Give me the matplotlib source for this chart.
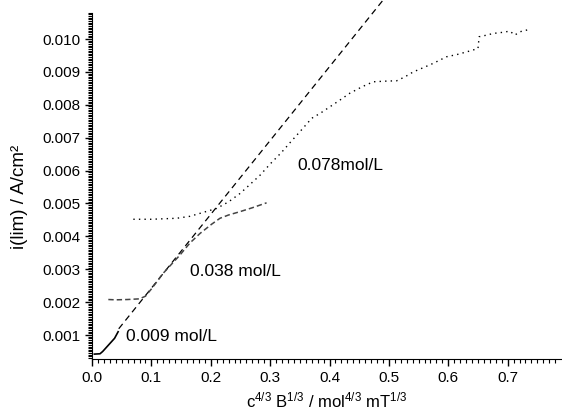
import matplotlib
matplotlib.use("Agg")
import matplotlib.pyplot as plt
from matplotlib.ticker import MultipleLocator, FormatStrFormatter

plt.rcParams['font.family'] = ['Liberation Sans', 'DejaVu Sans']
plt.rcParams['mathtext.fontset'] = 'custom'
plt.rcParams['mathtext.rm'] = 'Liberation Sans'
plt.rcParams['mathtext.it'] = 'Liberation Sans:italic'

# 0.009 mol/L
c009_x = [0.004, 0.0135, 0.018, 0.022, 0.026, 0.030, 0.034, 0.038, 0.041, 0.044]
c009_y = [0.00042, 0.00043, 0.00050, 0.00058, 0.00066, 0.00074, 0.00082, 0.00090, 0.00100, 0.00110]

# 0.038 mol/L
c038_x = [0.0275, 0.04, 0.06, 0.08, 0.09, 0.10, 0.12, 0.148, 0.165, 0.182, 0.2015,
          0.2155, 0.23, 0.249, 0.27, 0.294]
c038_y = [0.00208, 0.00207, 0.00208, 0.00210, 0.00218, 0.00240, 0.00288, 0.00343,
          0.00380, 0.00409, 0.00437, 0.00455, 0.00465, 0.00475, 0.00487, 0.00502]

# 0.078 mol/L
c078_x = [0.0696, 0.10, 0.1426, 0.165, 0.182, 0.195, 0.21, 0.23, 0.249, 0.265, 0.283,
          0.30, 0.319, 0.335, 0.350, 0.370, 0.385, 0.4007, 0.418, 0.434, 0.455, 0.4736,
          0.495, 0.513, 0.527, 0.541, 0.558, 0.5746, 0.597, 0.615, 0.631, 0.650, 0.652,
          0.665, 0.6756, 0.69, 0.7037, 0.712, 0.7205, 0.736]
c078_y = [0.00452, 0.00452, 0.00455, 0.00461, 0.00470, 0.00477, 0.00485, 0.00505,
          0.00530, 0.00556, 0.00586, 0.00620, 0.00655, 0.00688, 0.00718, 0.00759,
          0.00775, 0.00794, 0.00815, 0.00835, 0.00855, 0.00870, 0.00872, 0.00873,
          0.00885, 0.00900, 0.00913, 0.00926, 0.00946, 0.00953, 0.00961, 0.00971,
          0.01007, 0.01012, 0.01017, 0.01020, 0.01024, 0.01012, 0.01022, 0.01029]

# linear fit
fit_x = [0.045, 0.49]
fit_y = [0.00119, 0.01118]

labels = ["0.009 mol/L", "0.038 mol/L", "0.078mol/L"]
label_x = [0.0572, 0.165, 0.3456]
label_y = [0.00097, 0.00292, 0.00615]

fig = plt.figure(figsize=(5.62, 4.17), dpi=100)
ax = fig.add_axes([0.1637, 0.139, 0.998 - 0.1637, 0.9695 - 0.139])

ax.plot(fit_x, fit_y, color='black', lw=0.9, linestyle=(0, (5, 3.5)), clip_on=False)
ax.plot(c009_x, c009_y, color='black', lw=1.2)
ax.plot(c038_x, c038_y, color='#444444', lw=1.1, linestyle=(0, (3.5, 2)))
ax.plot(c078_x, c078_y, color='black', lw=1.0, linestyle=(0, (1, 3)))

for t, x, y in zip(labels, label_x, label_y):
    ax.text(x, y, t, fontsize=12.5, ha='left', va='center')

ax.set_xlim(0.0, 0.7896)
ax.set_ylim(0.00027, 0.0108)
ax.spines['top'].set_visible(False)
ax.spines['right'].set_visible(False)

ax.xaxis.set_major_locator(MultipleLocator(0.1))
ax.xaxis.set_minor_locator(MultipleLocator(0.01))
ax.xaxis.set_major_formatter(FormatStrFormatter('%.1f'))
ax.yaxis.set_major_locator(MultipleLocator(0.001))
ax.yaxis.set_minor_locator(MultipleLocator(0.00005))
ax.yaxis.set_major_formatter(FormatStrFormatter('%.3f'))
ax.tick_params(which='major', direction='out', length=5, width=1, labelsize=11)
ax.tick_params(which='minor', direction='out', length=3, width=0.8)

ax.set_xlabel("c$^{4/3}$ B$^{1/3}$ / mol$^{4/3}$ mT$^{1/3}$", fontsize=12)
ax.set_ylabel("i(lim) / A/cm²", fontsize=13.5)
ax.yaxis.set_label_coords(-0.1365, 0.468)

fig.savefig("out.png", dpi=100)
